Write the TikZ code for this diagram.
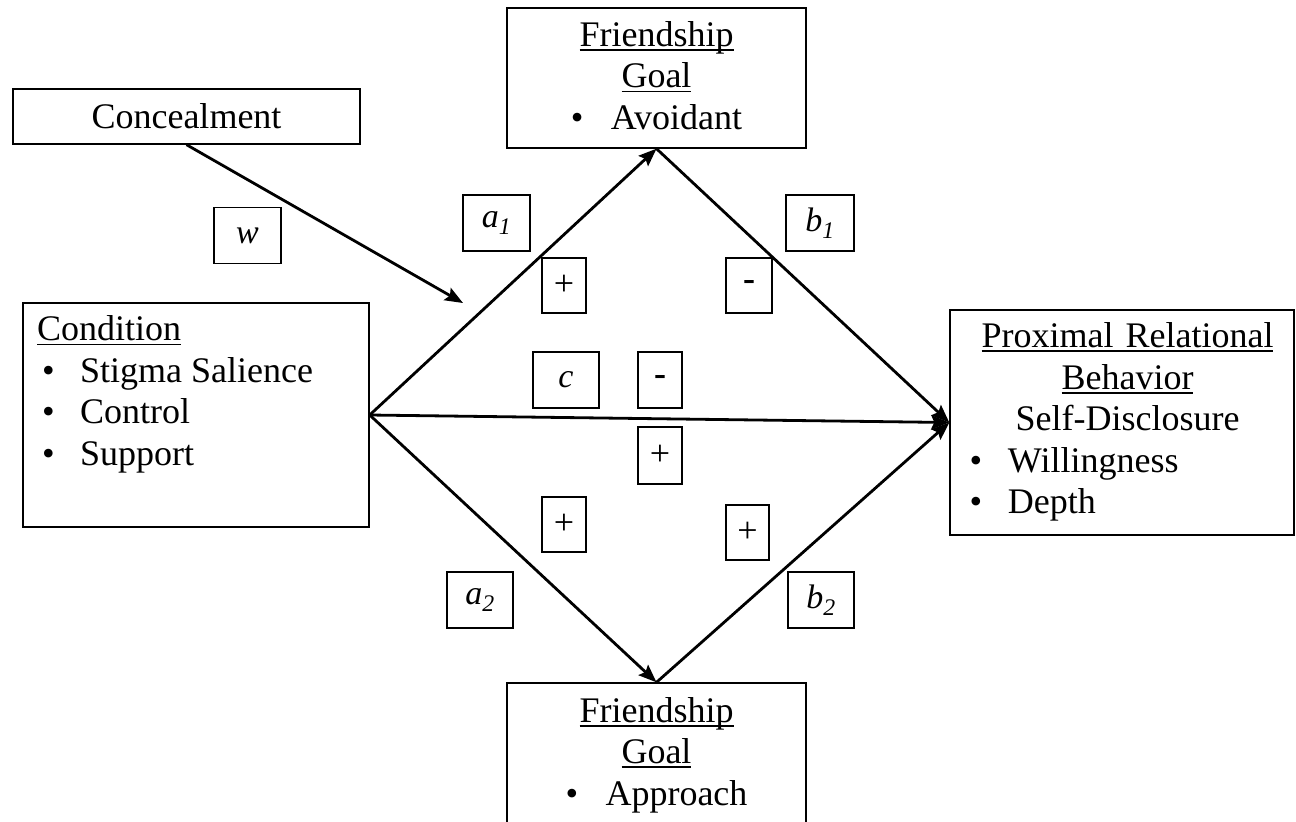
\documentclass[tikz,border=0pt]{standalone}
\usepackage{fontspec}
\setmainfont{Liberation Serif}
\newcommand{\myul}[1]{\leavevmode{\setbox0\hbox{#1}\rlap{\rule[-4.5pt]{\wd0}{1.8pt}}\box0}}
\newcommand{\mydash}{\raisebox{-3pt}{\textbf{-}}}
\usetikzlibrary{arrows.meta}
\begin{document}
\begin{tikzpicture}[x=1pt,y=-1pt,
  box/.style={draw, line width=1.4pt, inner sep=0pt},
  txt/.style={inner sep=0pt, font=\fontsize{36}{41.5}\selectfont},
  lab/.style={draw, line width=1.3pt, inner sep=0pt, minimum width=67pt, minimum height=56pt, font=\fontsize{34}{40}\selectfont\itshape},
  sgn/.style={draw, line width=1.3pt, inner sep=0pt, minimum width=44pt, minimum height=55pt, font=\fontsize{36}{40}\selectfont},
  arr/.style={line width=2.8pt, -{Stealth[length=18pt,width=14pt,inset=3pt]}}]
\useasboundingbox (0,0) rectangle (1296,822);

% main boxes
\node[box, txt, minimum width=347pt, minimum height=55pt] (conceal) at (186.5,116.5) {Concealment};
\node[box, minimum width=299pt, minimum height=140pt] (avoid) at (656.5,78) {};
\node[txt, align=center] (avoidtxt) at (656.5,75.5) {\myul{Friendship}\\\myul{Goal}\\\makebox[40pt][l]{•}Avoidant};
\node[box, minimum width=299pt, minimum height=145pt] (approach) at (656.5,755.5) {};
\node[txt, align=center] (approachtxt) at (656.5,755) {\myul{Friendship}\\\myul{Goal}\\\makebox[40pt][l]{•}Approach};
\node[box, minimum width=346pt, minimum height=224pt] (cond) at (196,415) {};
\node[txt, align=left, anchor=west] (condtxt) at (37,394.5) {\myul{Condition}\\\makebox[43pt][l]{\hspace{5pt}•}Stigma Salience\\\makebox[43pt][l]{\hspace{5pt}•}Control\\\makebox[43pt][l]{\hspace{5pt}•}Support};
\node[box, minimum width=344pt, minimum height=225pt] (prox) at (1122,422.5) {};
\node[txt, text width=316pt, align=center] (proxtxt) at (1127.5,422) {\myul{Proximal Relational}\\\myul{Behavior}\\Self-Disclosure\\\makebox[\linewidth][l]{\makebox[38.5pt][l]{•}Willingness}\\\makebox[\linewidth][l]{\makebox[38.5pt][l]{•}Depth}};

% path labels
\node[lab] (w) at (247.5,235.5) {w};
\node[lab] (a1) at (496.5,223) {a\textsubscript{1}};
\node[lab, minimum width=68pt] (b1) at (820,223) {b\textsubscript{1}};
\node[lab, minimum width=66pt] (c) at (566,380) {c};
\node[lab, minimum width=66pt] (a2) at (480,600) {a\textsubscript{2}};
\node[lab, minimum width=66pt] (b2) at (821,600) {b\textsubscript{2}};

% signs
\node[sgn] (s1) at (564,285.5) {+};
\node[sgn, minimum width=46pt] (s2) at (749,285.5) {\mydash};
\node[sgn, minimum height=56pt] (s3) at (660,380) {\mydash};
\node[sgn, minimum height=57pt] (s4) at (660,455.5) {+};
\node[sgn] (s5) at (564,524.5) {+};
\node[sgn, minimum width=43pt] (s6) at (747.5,532.5) {+};

% connectors
\coordinate (mod) at (463,303);
\draw[arr] (conceal.south) -- (mod);
\draw[arr] (cond.east) -- (avoid.south);
\draw[arr] (avoid.south) -- (prox.west);
\draw[arr] (cond.east) -- (prox.west);
\draw[arr] (cond.east) -- (approach.north);
\draw[arr] (approach.north) -- (prox.west);
\end{tikzpicture}
\end{document}
